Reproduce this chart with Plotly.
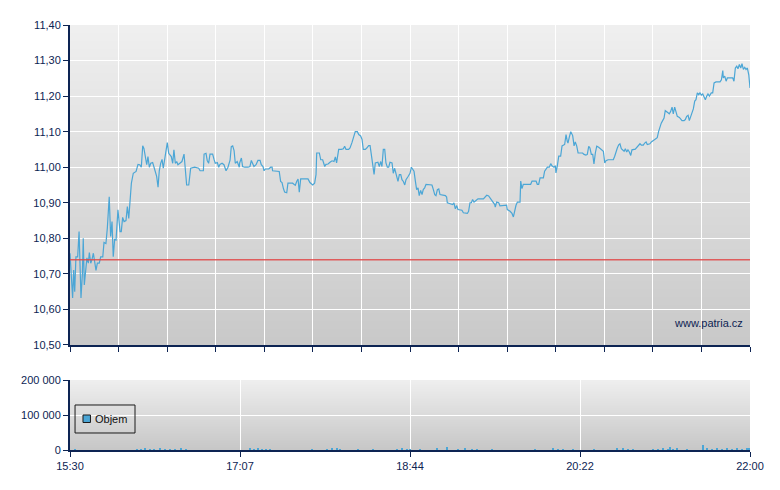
import plotly.graph_objects as go
import pandas as pd

# ---------------- data ----------------
# minutes after 15:30 and traded price
price_minutes = [
    0.0, 1.0, 1.5, 2.1, 2.7, 3.4, 4.4, 5.2, 5.7, 6.3, 7.1, 7.6, 8.2, 9.0, 9.7, 10.5, 11.1, 11.9, 12.6, 13.4,
    14.2, 14.9, 15.7, 16.8, 17.6, 18.8, 19.5, 20.6, 21.4, 22.5, 23.3, 24.1, 24.8, 25.6, 26.4, 27.5, 28.7, 29.4,
    30.2, 31.0, 32.1, 32.9, 33.7, 34.4, 35.2, 36.3, 37.9,
    39.0, 40.0, 40.9, 41.7, 42.4, 43.2, 44.0, 44.7, 45.5, 46.3, 47.4, 48.2, 48.9, 49.7, 50.5, 51.2, 52.0, 52.8,
    53.5, 54.3, 55.1, 55.8, 56.6, 57.4, 58.1, 58.9, 59.6, 60.4, 61.2, 61.9, 63.1, 64.2, 65.4, 66.1, 66.9, 68.1,
    69.2, 71.5, 73.8, 74.6, 76.5, 76.9, 78.0, 78.7, 79.5, 80.3, 81.8, 82.6, 83.3, 84.5, 85.3, 86.0, 87.2, 88.3,
    89.5, 90.6, 91.8, 92.5, 93.3, 94.1, 94.8, 95.9, 97.1,
    97.3, 98.3, 99.0, 100.2, 102.1, 103.2, 104.0, 104.8, 105.5, 106.7, 107.8, 109.0, 109.7, 110.7, 111.3, 112.0,
    114.0, 115.1, 115.9, 116.2, 118.9, 120.0, 120.8, 121.6, 122.4, 123.1, 124.3, 125.0, 127.7, 128.5, 129.2,
    130.0, 130.8, 131.5, 132.3, 136.5, 137.6, 139.2, 140.3, 141.1, 141.5, 143.0, 143.8, 144.9, 146.1, 146.8,
    148.0, 149.1, 150.3, 151.4, 152.2, 152.9, 154.1, 155.6, 156.8, 157.5, 158.3, 159.8, 160.6, 161.7, 162.9,
    163.6, 164.8, 165.6, 166.7, 167.5, 168.2, 169.4, 170.2, 171.3, 172.1, 172.8, 173.6, 174.4, 175.1, 176.6,
    177.4, 178.2, 178.9, 179.7, 180.5, 181.2, 182.0, 182.8, 183.5, 184.7, 185.4, 186.2, 187.0, 188.1, 188.9,
    189.7, 190.4, 191.2, 192.0, 192.7, 193.9, 195.0,
    195.8, 196.5, 197.3, 198.1, 198.8, 199.6, 200.3, 201.1, 201.9, 202.6, 203.4, 204.2, 206.9, 207.6, 208.4,
    209.2, 209.9, 210.7, 211.5, 212.2, 215.3, 216.0, 216.4, 219.5, 220.2, 221.0, 221.8, 222.5, 224.8, 225.6,
    227.9, 228.6, 229.4, 230.2, 230.9, 231.7, 232.5, 233.2, 234.0, 237.1, 237.8, 239.0, 240.1, 241.3, 242.0,
    242.8, 243.6, 243.9, 244.7, 245.9, 246.6, 250.4, 250.8, 252.4, 253.5, 254.3, 255.0, 255.8, 256.6, 258.1,
    258.5, 259.2, 260.0, 264.2, 265.0, 267.3, 268.0, 268.8, 269.6, 271.5, 272.2, 273.0, 273.8, 274.9, 275.7,
    276.4, 277.6, 278.4, 278.7, 279.5, 280.3, 281.4, 282.2, 283.7, 284.5, 285.2, 285.6, 286.4, 287.2, 288.3,
    289.1, 289.8, 290.6, 291.4, 292.5,
    294.0, 294.8, 295.9, 296.7, 297.5, 298.2, 299.0, 299.8, 300.5, 301.3, 302.1, 303.2, 304.4, 305.1, 305.9,
    306.7, 307.4, 308.6, 311.6, 312.4, 313.1, 313.9, 314.7, 315.4, 316.2, 317.8, 318.5, 319.3, 320.0, 320.8,
    321.6, 322.3, 324.2, 325.0, 325.8, 326.9, 327.7, 328.8, 329.6, 330.4, 331.1, 332.6, 333.4, 334.5, 335.7,
    336.8, 337.6, 338.4, 339.1, 339.9, 340.7, 341.4, 342.2, 343.0, 343.7, 344.5, 345.3, 346.0, 346.8, 347.6,
    348.3, 349.5, 350.3, 351.0, 352.2, 352.9, 353.7, 354.5, 355.2, 356.0, 356.7, 357.5, 358.3, 359.0, 359.8,
    360.6, 361.3, 362.1, 362.9, 363.6, 364.4, 365.2, 365.9, 366.7, 367.8, 368.6, 369.4, 370.5, 372.8, 373.6,
    374.4, 374.7, 375.5, 376.3, 377.0, 380.1, 380.8, 381.6, 382.4, 383.1, 383.9, 384.7, 385.4, 386.2, 387.0,
    387.7, 388.5, 389.3, 390.0,
]
prices = [
    10.758, 10.692, 10.632, 10.711, 10.650, 10.748, 10.748, 10.819, 10.700, 10.632, 10.700, 10.800, 10.669,
    10.710, 10.745, 10.730, 10.760, 10.730, 10.740, 10.758, 10.730, 10.710, 10.730, 10.730, 10.748, 10.748,
    10.788, 10.785, 10.828, 10.917, 10.805, 10.847, 10.748, 10.797, 10.795, 10.880, 10.819, 10.819, 10.859,
    10.847, 10.850, 10.889, 10.856, 10.898, 10.955, 10.983, 10.988,
    11.008, 11.007, 11.000, 11.060, 11.053, 11.035, 11.007, 11.030, 11.000, 11.011, 11.013, 11.000, 10.990,
    10.974, 10.944, 10.990, 11.011, 11.022, 10.997, 11.025, 11.039, 11.069, 11.039, 11.035, 11.030, 11.011,
    11.049, 11.011, 11.016, 11.007, 11.011, 11.016, 11.037, 11.000, 10.950, 10.950, 10.997, 11.000, 10.997,
    10.990, 10.990, 11.037, 11.039, 11.019, 11.011, 11.037, 11.037, 11.022, 11.011, 11.013, 11.000, 11.008,
    11.011, 11.007, 10.990, 11.000, 11.020, 11.058, 11.060, 11.047, 11.011, 11.016, 11.000,
    11.012, 11.026, 11.002, 11.000, 11.000, 11.002, 11.019, 11.007, 11.002, 11.007, 11.019, 11.019, 11.007,
    11.002, 10.990, 10.995, 10.995, 11.000, 11.000, 10.990, 10.990, 10.988, 10.960, 10.957, 10.940, 10.930,
    10.928, 10.955, 10.955, 10.953, 10.949, 10.960, 10.967, 10.930, 10.967, 10.967, 10.957, 10.950, 10.955,
    10.979, 11.040, 11.040, 11.021, 11.021, 11.002, 11.008, 11.009, 11.014, 11.018, 11.016, 11.029, 11.012,
    11.050, 11.050, 11.052, 11.059, 11.050, 11.050, 11.054, 11.069, 11.092, 11.100, 11.100, 11.092, 11.088,
    11.078, 11.050, 11.050, 11.054, 11.061, 11.061, 11.040, 11.012, 10.980, 11.012, 11.014, 11.002, 11.016,
    11.002, 11.050, 11.050, 11.012, 11.000, 11.000, 11.014, 11.012, 10.983, 10.997, 10.981, 10.960, 10.979,
    10.979, 10.965, 10.960, 10.950, 10.965, 10.974, 10.983,
    11.000, 10.994, 10.989, 10.960, 10.937, 10.942, 10.920, 10.935, 10.923, 10.937, 10.942, 10.952, 10.952,
    10.950, 10.937, 10.923, 10.920, 10.937, 10.939, 10.923, 10.920, 10.916, 10.900, 10.895, 10.900, 10.883,
    10.892, 10.881, 10.879, 10.872, 10.870, 10.876, 10.900, 10.900, 10.909, 10.902, 10.905, 10.909, 10.911,
    10.911, 10.915, 10.921, 10.919, 10.911, 10.907, 10.900, 10.895, 10.888, 10.902, 10.900, 10.891, 10.893,
    10.881, 10.876, 10.870, 10.860, 10.876, 10.893, 10.902, 10.902, 10.961, 10.940, 10.952, 10.952, 10.961,
    10.961, 10.952, 10.952, 10.970, 10.970, 10.989, 10.996, 11.000, 11.000, 11.010, 11.004, 11.000, 11.004,
    10.984, 11.004, 11.031, 11.031, 11.060, 11.064, 11.092, 11.073, 11.068, 11.085, 11.100, 11.089, 11.060,
    11.071, 11.060, 11.040, 11.040,
    11.040, 11.036, 11.034, 11.036, 11.059, 11.054, 11.036, 11.036, 11.009, 11.040, 11.059, 11.056, 11.052,
    11.049, 11.045, 11.012, 11.018, 11.021, 11.021, 11.031, 11.045, 11.054, 11.063, 11.066, 11.052, 11.045,
    11.052, 11.043, 11.049, 11.043, 11.033, 11.049, 11.051, 11.056, 11.062, 11.066, 11.062, 11.062, 11.068,
    11.071, 11.064, 11.066, 11.071, 11.075, 11.077, 11.083, 11.101, 11.118, 11.124, 11.131, 11.138, 11.159,
    11.157, 11.153, 11.150, 11.157, 11.169, 11.150, 11.169, 11.153, 11.143, 11.140, 11.134, 11.131, 11.131,
    11.134, 11.143, 11.146, 11.131, 11.143, 11.157, 11.164, 11.186, 11.190, 11.209, 11.204, 11.209, 11.203,
    11.206, 11.200, 11.190, 11.200, 11.206, 11.200, 11.209, 11.209, 11.237, 11.240, 11.240, 11.246, 11.272,
    11.251, 11.256, 11.242, 11.251, 11.251, 11.242, 11.279, 11.284, 11.277, 11.289, 11.279, 11.291, 11.275,
    11.281, 11.275, 11.279, 11.260, 11.223,
]
reference_price = 10.74

volume_minutes = [
    2.9, 38.4, 40.7, 43.0, 45.9, 48.2, 51.6, 54.5, 57.4, 60.2, 63.7, 66.5, 103.2, 105.5, 107.8, 110.1, 112.4,
    114.7, 138.8, 147.4, 150.3, 153.2, 154.8, 165.2, 173.8, 187.5, 190.4, 193.3, 195.0, 200.7, 210.5, 216.2,
    222.5, 226.6, 230.4, 233.4, 242.0, 266.7, 277.0, 280.2, 282.7, 288.5, 300.5, 313.7, 317.2, 320.1, 322.9,
    334.4, 337.2, 340.1, 343.0, 344.1, 345.8, 348.1, 353.9, 363.1, 365.3, 368.2, 371.1, 373.9, 376.8, 379.6,
    382.5, 385.4, 388.2, 389.5,
]
volumes = [
    2500, 2000, 1500, 3000, 2500, 2000, 3500, 2000, 1500, 2500, 3000, 2000, 3500, 2500, 3000, 2000, 1500,
    2500, 1500, 2000, 3500, 3000, 2000, 1500, 1500, 2000, 3000, 2500, 2000, 2500, 6500, 9500,
    2500, 3000, 2000, 2500, 2000, 2000, 3000, 2500, 2000, 1500, 2500, 3500, 3000, 2500, 2000,
    2000, 2500, 3000, 2500, 9000, 2000, 3000, 2500, 13000, 3000, 2500, 3000, 2000, 3500, 2500,
    3000, 2500, 3000, 3500,
]

x_tick_labels = ["15:30", "17:07", "18:44", "20:22", "22:00"]
series_name = "Objem"

# ---------------- styling ----------------
NAVY = "#0d2453"
LINE = "#4ba6d6"
FONT = "Liberation Sans"

base = pd.Timestamp("2024-01-02 15:30")
end = pd.Timestamp("2024-01-02 22:00")
t_price = base + pd.to_timedelta(price_minutes, unit="m")
t_vol = base + pd.to_timedelta(volume_minutes, unit="m")

top_ticks = [base + (end - base) * i / 14 for i in range(15)]
bot_ticks = [base + (end - base) * i / 4 for i in range(5)]

fig = go.Figure()

fig.add_trace(go.Scatter(
    x=t_price, y=prices, mode="lines", line=dict(color=LINE, width=1.2),
    xaxis="x", yaxis="y", showlegend=False, hoverinfo="x+y"))
fig.add_trace(go.Scatter(
    x=[base, end], y=[reference_price, reference_price], mode="lines",
    line=dict(color="rgba(225,70,70,0.85)", width=1.5),
    xaxis="x", yaxis="y", showlegend=False, hoverinfo="skip"))
fig.add_trace(go.Bar(
    x=t_vol, y=volumes, name=series_name, marker=dict(color=LINE, line=dict(width=0)),
    width=50000, xaxis="x2", yaxis="y2", showlegend=False))

# gradient backgrounds as overlapping bands in domain coords
shapes = []
N = 40
def band(xref, yref, top_c, bot_c):
    for i in range(N):
        f0, f1 = i / N, (i + 1) / N
        c = bot_c + (top_c - bot_c) * (i + 0.5) / N
        col = f"rgb({int(round(c))},{int(round(c))},{int(round(c))})"
        y1 = min(1.0, f1 + 0.6 / N)
        shapes.append(dict(type="rect", xref=xref, yref=yref, x0=0, x1=1, y0=f0, y1=y1,
                           fillcolor=col, line=dict(width=0), layer="below"))
band("x domain", "y domain", 239, 201)
band("x2 domain", "y2 domain", 239, 198)

# hand-drawn legend box for the volume series
shapes.append(dict(type="rect", xref="x2 domain", yref="y2 domain", x0=0.0074, x1=0.0956,
                   y0=0.243, y1=0.643, line=dict(color="#1a1a1a", width=1),
                   fillcolor="rgba(0,0,0,0)", layer="above"))
shapes.append(dict(type="rect", xref="x2 domain", yref="y2 domain", x0=0.0191, x1=0.0301,
                   y0=0.393, y1=0.5, line=dict(color="#1a1a1a", width=1),
                   fillcolor=LINE, layer="above"))

axis_common = dict(
    showline=True, linecolor=NAVY, linewidth=2, ticks="outside", tickcolor=NAVY,
    ticklen=5, tickwidth=1, showgrid=True, gridcolor="white", gridwidth=1.3,
    zeroline=False, tickfont=dict(family=FONT, size=11, color=NAVY),
)

fig.update_layout(
    width=780, height=490,
    margin=dict(l=70, r=30, t=25, b=40),
    paper_bgcolor="white", plot_bgcolor="rgba(0,0,0,0)",
    separators=", ",
    font=dict(family=FONT, size=11, color=NAVY),
    shapes=shapes,
    xaxis=dict(axis_common, domain=[0, 1], anchor="y", range=[base, end],
               tickvals=top_ticks, showticklabels=False),
    yaxis=dict(axis_common, domain=[0.2471, 1], anchor="x", range=[10.5, 11.4],
               tickvals=[10.5 + 0.1 * i for i in range(10)], tickformat=".2f"),
    xaxis2=dict(axis_common, domain=[0, 1], anchor="y2", range=[base, end],
                tickvals=bot_ticks, ticktext=x_tick_labels, matches="x"),
    yaxis2=dict(axis_common, domain=[0, 0.1647], anchor="x2", range=[0, 200000],
                tickvals=[0, 100000, 200000], tickformat=",.0f"),
    showlegend=False,
    annotations=[
        dict(text="www.patria.cz", xref="x domain", yref="y domain", x=0.992, y=0.068,
             xanchor="right", yanchor="middle", showarrow=False,
             font=dict(family=FONT, size=11, color=NAVY)),
        dict(text=series_name, xref="x2 domain", yref="y2 domain", x=0.0345, y=0.443,
             xanchor="left", yanchor="middle", showarrow=False,
             font=dict(family=FONT, size=11, color="#111111")),
    ],
    bargap=0,
    hovermode="closest",
)

fig.write_html("out.html")
